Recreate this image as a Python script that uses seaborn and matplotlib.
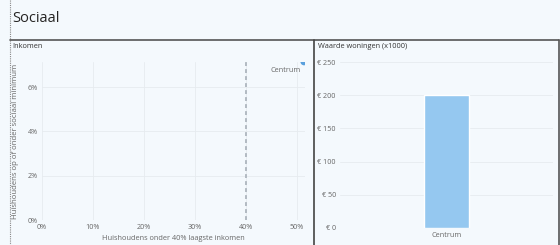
import matplotlib
matplotlib.use("Agg")
import matplotlib.pyplot as plt
import seaborn as sns
import pandas as pd
from matplotlib.ticker import PercentFormatter, FuncFormatter
from matplotlib.lines import Line2D

sns.set_theme(style="white")
plt.rcParams['font.family'] = ['Open Sans', 'DejaVu Sans']

# Data
wijk = ["Centrum"]
laagste_inkomen = [0.514]      # Huishoudens onder 40% laagste inkomens
sociaal_minimum = [0.0714]     # Huishoudens op of onder sociaal minimum
referentie_x = 0.40            # dashed reference line
woningwaarde = [201]           # Waarde woningen (x1000)

x_ticks = [0, 0.1, 0.2, 0.3, 0.4, 0.5]
y_ticks = [0, 0.02, 0.04, 0.06]
bar_ticks = [0, 50, 100, 150, 200, 250]

BG = "#f4f9fd"
TXT = "#666666"
GRID = "#e6ebef"
BAR = "#95c8f0"

W, H = 560, 245
fig = plt.figure(figsize=(W / 100, H / 100), dpi=100, facecolor=BG)

def fx(px):
    return px / W

def fy(py):
    return 1 - py / H

# frame lines
fig.add_artist(Line2D([fx(9.5), fx(9.5)], [fy(0), fy(245)], color="#888888", lw=0.8, ls=(0, (1, 1))))
fig.add_artist(Line2D([fx(10), fx(559)], [fy(40), fy(40)], color="#555555", lw=1.2))
fig.add_artist(Line2D([fx(313.5), fx(313.5)], [fy(40), fy(245)], color="#444444", lw=1.2))
fig.add_artist(Line2D([fx(559), fx(559)], [fy(40), fy(245)], color="#555555", lw=1.2))

fig.text(fx(12), fy(18), "Sociaal", fontsize=10.5, color="#252423", va="center", ha="left")
fig.text(fx(12), fy(47), "Inkomen", fontsize=5.3, color="#333333", va="center", ha="left")
fig.text(fx(318), fy(47), "Waarde woningen (x1000)", fontsize=5.3, color="#333333", va="center", ha="left")

# Left scatter
ax1 = fig.add_axes([fx(42), fy(220), fx(305) - fx(42), fy(62) - fy(220)])
ax1.set_facecolor(BG)
df1 = pd.DataFrame({"x": laagste_inkomen, "y": sociaal_minimum, "wijk": wijk})
sns.scatterplot(data=df1, x="x", y="y", ax=ax1, color="#5aa0dd", s=26, edgecolor="none", clip_on=True, legend=False)
ax1.text(0.507, 0.0674, wijk[0], fontsize=5.2, color=TXT, ha="right", va="center")
ax1.axvline(referentie_x, color="#b2bac2", lw=1.4, ls=(0, (2, 1.6)))
ax1.set_xlim(0, 0.516)
ax1.set_ylim(0, 0.0713)
ax1.set_xticks(x_ticks)
ax1.set_yticks(y_ticks)
ax1.xaxis.set_major_formatter(PercentFormatter(1, decimals=0))
ax1.yaxis.set_major_formatter(PercentFormatter(1, decimals=0))
ax1.grid(True, color=GRID, lw=0.6)
ax1.set_axisbelow(True)
for s in ax1.spines.values():
    s.set_visible(False)
ax1.tick_params(labelsize=5.2, colors=TXT, length=0, pad=3)
ax1.set_xlabel("Huishoudens onder 40% laagste inkomen", fontsize=5.3, color=TXT, labelpad=3)
ax1.set_ylabel("Huishoudens op of onder sociaal minimum", fontsize=5.6, color=TXT, labelpad=6)

# Right bar
ax2 = fig.add_axes([fx(340), fy(228), fx(553) - fx(340), fy(62) - fy(228)])
ax2.set_facecolor(BG)
df2 = pd.DataFrame({"wijk": wijk, "waarde": woningwaarde})
sns.barplot(data=df2, x="wijk", y="waarde", ax=ax2, color=BAR, width=0.21, saturation=1)
ax2.set_xlim(-0.5, 0.5)
ax2.set_ylim(0, 250)
ax2.set_yticks(bar_ticks)
ax2.yaxis.set_major_formatter(FuncFormatter(lambda v, p: f"€ {int(v)}"))
ax2.grid(True, axis="y", color=GRID, lw=0.6)
ax2.set_axisbelow(True)
for s in ax2.spines.values():
    s.set_visible(False)
ax2.tick_params(labelsize=5.2, colors=TXT, length=0, pad=3)
ax2.set_xlabel("")
ax2.set_ylabel("")

fig.savefig("out.png", dpi=100, facecolor=BG)
